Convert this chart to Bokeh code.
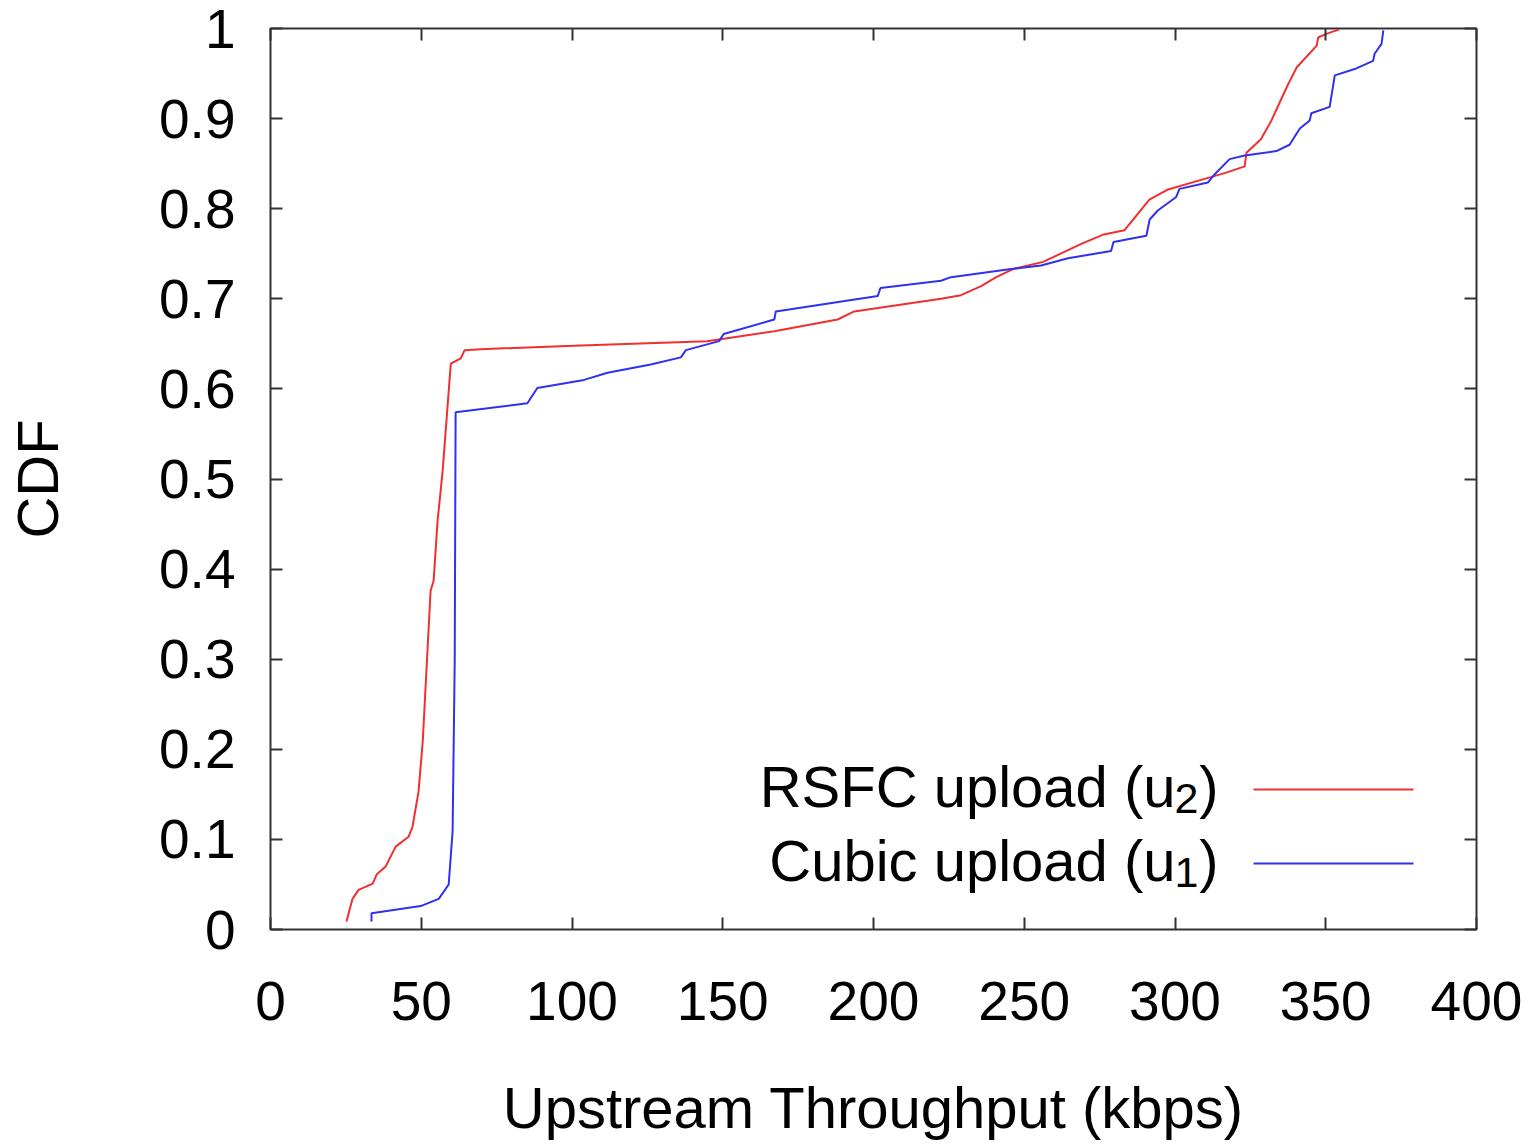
from bokeh.plotting import figure
from bokeh.models import (FixedTicker, CustomJSTickFormatter, LinearAxis, Label,
                          Arrow, Range1d)
from bokeh.embed import file_html
from bokeh.resources import INLINE

# Empirical CDF of upstream throughput (kbps) for each flow
rsfc_kbps = [25.2, 27.2, 29.2, 33.9, 35.2, 38.2, 41.5, 45.8, 47.1, 49.1, 50.5, 53.1,
             54.1, 55.4, 57.1, 59.8, 63.1, 64.4, 69.7, 100.6, 144.8, 167.1, 188.1,
             193.6, 222.4, 229.0, 235.7, 240.7, 246.3, 256.3, 268.9, 276.0, 283.2,
             291.5, 297.4, 308.7, 317.0, 323.1, 323.7, 328.5, 332.0, 335.3, 337.5,
             340.4, 347.0, 347.5, 350.2, 354.5]
rsfc_cdf = [0.009, 0.034, 0.044, 0.051, 0.061, 0.070, 0.092, 0.103, 0.114, 0.153,
            0.209, 0.376, 0.387, 0.453, 0.509, 0.628, 0.634, 0.643, 0.644, 0.648,
            0.653, 0.664, 0.677, 0.686, 0.700, 0.704, 0.714, 0.724, 0.733, 0.741,
            0.761, 0.771, 0.776, 0.810, 0.821, 0.832, 0.840, 0.847, 0.862, 0.877,
            0.898, 0.922, 0.938, 0.957, 0.981, 0.990, 0.994, 0.999]

cubic_kbps = [33.5, 33.5, 49.8, 55.8, 59.1, 60.4, 61.1, 61.4, 85.2, 88.5, 104.0, 111.8,
              126.1, 136.1, 137.8, 148.8, 150.3, 167.1, 167.6, 201.4, 202.3, 222.4,
              225.7, 245.6, 255.6, 264.5, 278.8, 279.6, 290.5, 291.6, 294.3, 300.4,
              301.5, 310.9, 313.1, 318.1, 323.1, 333.6, 338.0, 341.4, 344.7, 345.2,
              351.3, 353.0, 359.6, 365.7, 366.2, 368.5, 369.1]
cubic_cdf = [0.009, 0.018, 0.026, 0.034, 0.050, 0.109, 0.298, 0.574, 0.584, 0.601,
             0.610, 0.618, 0.627, 0.635, 0.643, 0.653, 0.661, 0.677, 0.686, 0.703,
             0.712, 0.720, 0.724, 0.733, 0.737, 0.745, 0.753, 0.763, 0.770, 0.788,
             0.798, 0.813, 0.822, 0.829, 0.838, 0.855, 0.859, 0.864, 0.871, 0.889,
             0.898, 0.906, 0.913, 0.948, 0.955, 0.964, 0.972, 0.983, 0.998]

x_ticks = [0, 50, 100, 150, 200, 250, 300, 350, 400]
y_ticks = [0, 0.1, 0.2, 0.3, 0.4, 0.5, 0.6, 0.7, 0.8, 0.9, 1]
y_tick_labels = ["0", "0.1", "0.2", "0.3", "0.4", "0.5", "0.6", "0.7", "0.8", "0.9", "1"]

FONT = "Liberation Sans"
FRAME = "#333333"
RED = "#f03030"
BLUE = "#3030f0"

p = figure(width=1540, height=1144, output_backend="svg", toolbar_location=None,
           x_range=Range1d(0, 400), y_range=Range1d(0, 1),
           min_border_left=270, min_border_right=64, min_border_top=28,
           min_border_bottom=215, x_axis_label="Upstream Throughput (kbps)",
           y_axis_label="CDF")
p.grid.visible = False
p.outline_line_color = FRAME
p.outline_line_width = 2
p.background_fill_color = "white"
p.border_fill_color = "white"

p.xaxis.ticker = FixedTicker(ticks=x_ticks)
p.yaxis.ticker = FixedTicker(ticks=y_ticks)
p.yaxis.formatter = CustomJSTickFormatter(
    args=dict(vals=y_ticks, labs=y_tick_labels),
    code="""
    for (let i = 0; i < vals.length; i++) {
        if (Math.abs(vals[i] - tick) < 1e-9) return labs[i];
    }
    return String(tick);
""")

for ax in (p.xaxis[0], p.yaxis[0]):
    ax.axis_line_color = None
    ax.major_tick_in = 12
    ax.major_tick_out = 0
    ax.major_tick_line_color = FRAME
    ax.major_tick_line_width = 2
    ax.minor_tick_line_color = None
    ax.major_label_text_font = FONT
    ax.major_label_text_font_size = "55px"
    ax.major_label_text_color = "black"
    ax.axis_label_text_font = FONT
    ax.axis_label_text_font_size = "58px"
    ax.axis_label_text_font_style = "normal"
    ax.axis_label_text_color = "black"

p.xaxis.major_label_standoff = 52
p.yaxis.major_label_standoff = 35
p.xaxis.axis_label_standoff = 52
p.yaxis.axis_label_standoff = 86

# mirrored tick marks on the top and right sides of the frame (no labels)
for side, tk in (("above", x_ticks), ("right", y_ticks)):
    mirror = LinearAxis(ticker=FixedTicker(ticks=tk), axis_line_color=None,
                        major_tick_in=12, major_tick_out=0,
                        major_tick_line_color=FRAME, major_tick_line_width=2,
                        minor_tick_line_color=None,
                        formatter=CustomJSTickFormatter(code="return '';"),
                        major_label_standoff=0)
    p.add_layout(mirror, side)

p.line(rsfc_kbps, rsfc_cdf, line_color=RED, line_width=2)
p.line(cubic_kbps, cubic_cdf, line_color=BLUE, line_width=2)

# key: text on the left, sample line on the right
entries = [("RSFC upload (u", "2", RED, 143, 131, 140),
           ("Cubic upload (u", "1", BLUE, 69, 57, 66)]
for main, sub, color, base_y, sub_y, line_y in entries:
    p.add_layout(Label(x=905, y=base_y, x_units="screen", y_units="screen", text=main,
                       text_align="right", text_baseline="alphabetic", text_font=FONT,
                       text_font_size="58px", text_color="black"))
    p.add_layout(Label(x=928, y=sub_y, x_units="screen", y_units="screen", text=sub,
                       text_align="right", text_baseline="alphabetic", text_font=FONT,
                       text_font_size="43px", text_color="black"))
    p.add_layout(Label(x=948, y=base_y, x_units="screen", y_units="screen", text=")",
                       text_align="right", text_baseline="alphabetic", text_font=FONT,
                       text_font_size="58px", text_color="black"))
    p.add_layout(Arrow(end=None, x_start=983, y_start=line_y, x_end=1143, y_end=line_y,
                       start_units="screen", end_units="screen",
                       line_color=color, line_width=2))

open("out.html", "w").write(file_html(p, INLINE))
